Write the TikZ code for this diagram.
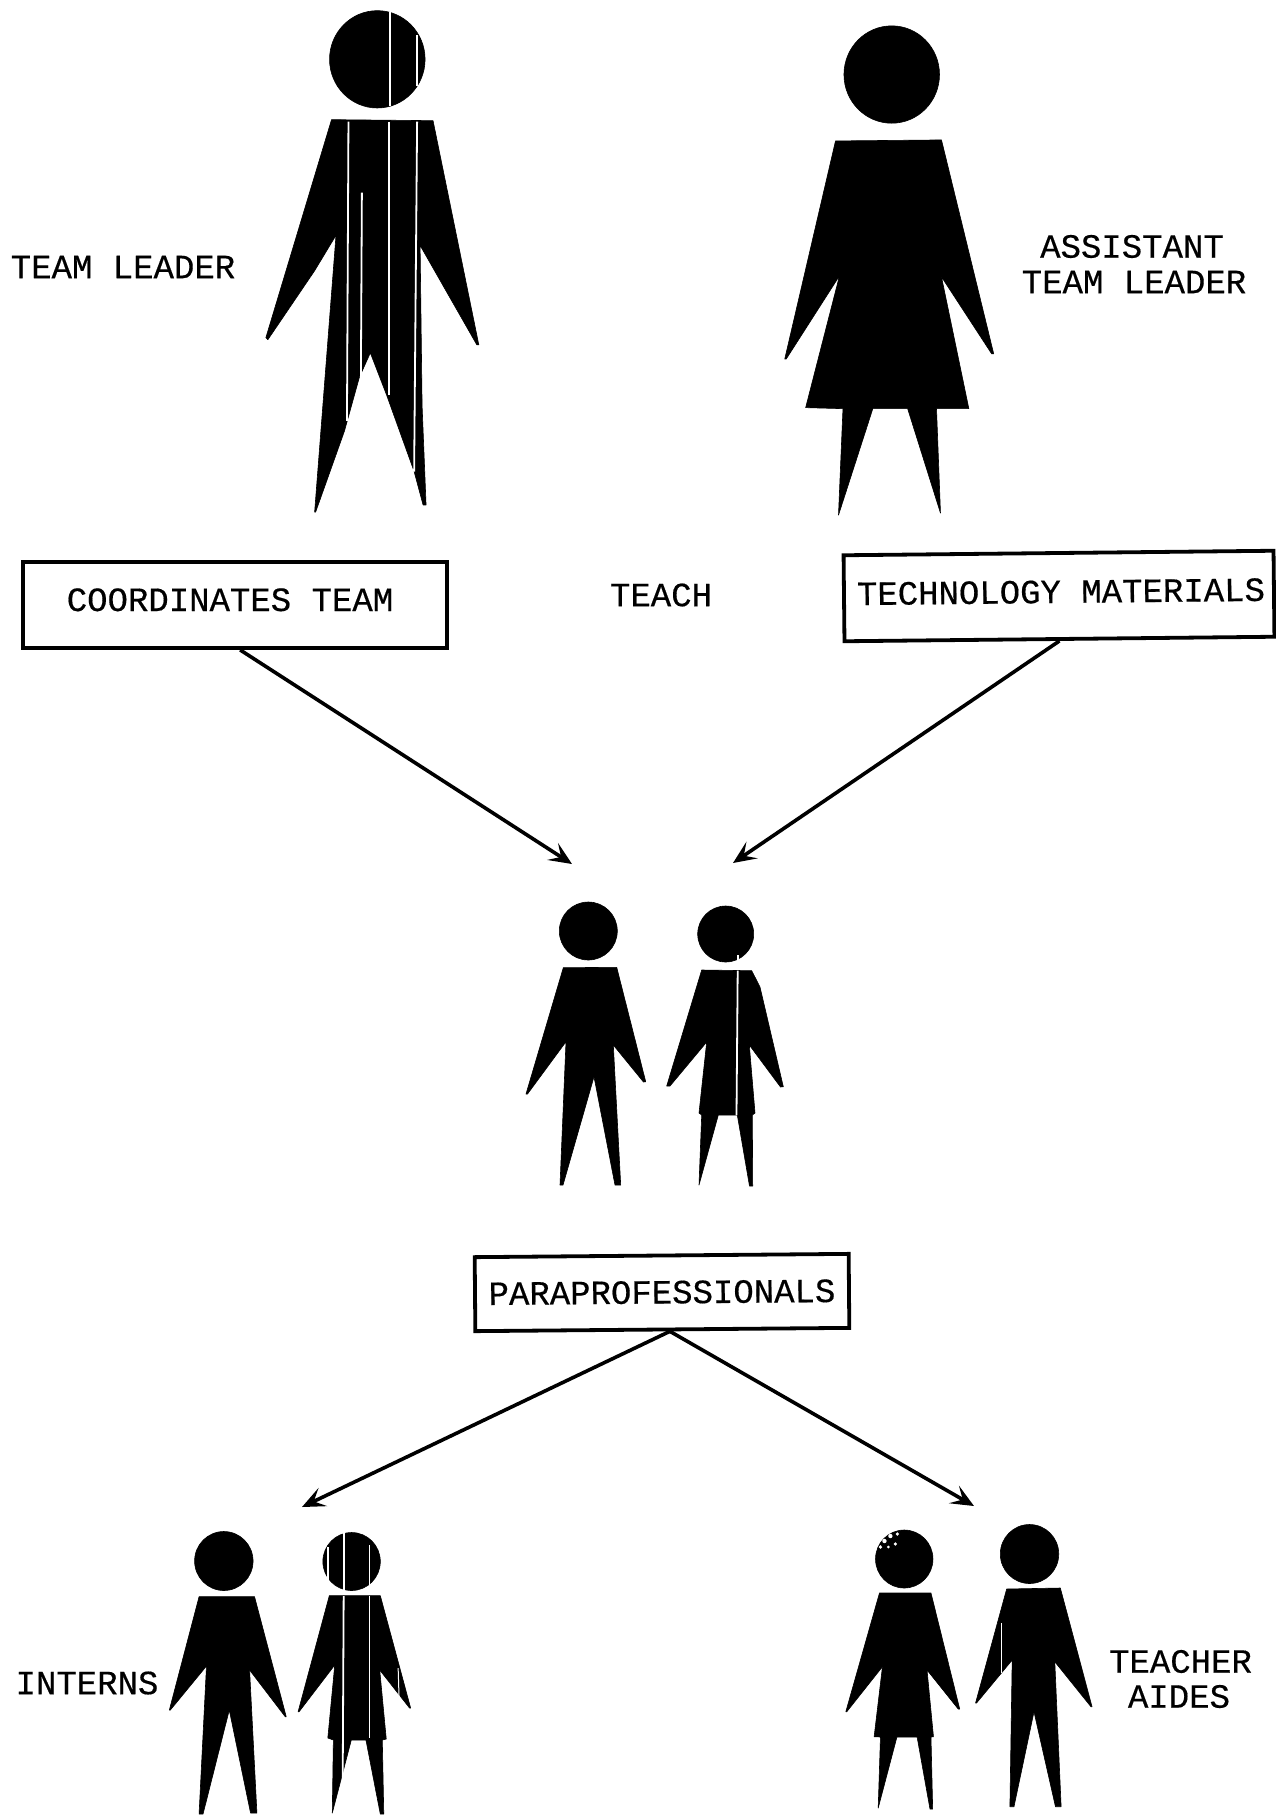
\documentclass[tikz,border=0pt]{standalone}
\usepackage{fontspec}
\setmainfont[FakeBold=0.4]{Liberation Mono}
\usetikzlibrary{arrows.meta,calc}
\tikzset{
  silhouette/.style={fill=black,draw=black,line width=0.6pt,line join=round},
  scan/.style={white,line width=1.8pt},
  label/.style={inner sep=0pt,font=\fontsize{34}{34}\selectfont,text=black},
  boxed/.style={draw=black,line width=3.8pt,fill=white,inner sep=0pt,font=\fontsize{34}{34}\selectfont,text=black,text height=22pt},
  link/.style={draw=black,line width=3.6pt,-{Stealth[length=23pt,width=20pt,inset=10pt]}},
  topfigs/.style={x=0.995pt,xshift=1.2pt,y=-1.014pt},
  lowfigs/.style={x=0.9904pt}
}
\begin{document}
\begin{tikzpicture}[x=1pt,y=-1pt]
\useasboundingbox (0,0) rectangle (1275,1815);

\begin{scope}[topfigs]
% --- Team leader
\fill[silhouette] (378,58.5) circle [radius=48];
\fill[silhouette] (332,118) -- (434,119) -- (480,340) -- (478,340) -- (421,242) -- (423,400) -- (427,498) -- (424,498)
  -- (415,465) -- (387.5,390) -- (371,348) -- (360,372) -- (345,425) -- (316,505) -- (315,505) -- (336.5,232)
  -- (315,267) -- (268,335) -- (266,333) -- cycle;
\draw[scan] (391,12) -- (391,105);
\draw[scan] (418,35) -- (418,85);
\draw[scan] (349,120) -- (347.5,415);
\draw[scan] (390,120) -- (390,390);
\draw[scan] (418,120) -- (415,465);
\draw[scan] (362.5,190) -- (361.5,372);

% --- Assistant team leader
\fill[silhouette] (895,73.5) circle [radius=48];
\fill[silhouette] (838.5,139) -- (945,138) -- (997.5,349) -- (995.5,349) -- (945,273) -- (972.5,403) -- (940,403)
  -- (944,506) -- (911,403) -- (876,403) -- (841.5,508) -- (846,403) -- (808.5,402) -- (842.5,272)
  -- (789,354) -- (787.5,354) -- cycle;
\end{scope}

% --- Boxes
\node[boxed,minimum width=424pt,minimum height=86pt,text depth=10pt] (cb) at (235,605) {COORDINATES TEAM\kern10pt};
\node[boxed,minimum width=430pt,minimum height=86pt,text depth=8pt,rotate=0.6] (tb) at (1059,596) {\kern4pt TECHNOLOGY MATERIALS};
\node[boxed,minimum width=374pt,minimum height=74pt,text depth=0pt,rotate=0.5] (pb) at (662,1292.5) {PARAPROFESSIONALS};

% --- Labels
\node[label] (teamleader) at (123,267) {TEAM LEADER};
\node[label] (assistant) at (1132,246.5) {ASSISTANT};
\node[label] (assistantb) at (1134,282) {TEAM LEADER};
\node[label] (teach) at (661,595) {TEACH};
\node[label] (interns) at (87,1683) {INTERNS};
\node[label] (teacher) at (1180.5,1661.5) {TEACHER};
\node[label] (aides) at (1179,1696.5) {AIDES};

% --- Middle pair
\fill[silhouette] (588.3,931) circle [radius=29];
\fill[silhouette] (563.3,967.7) -- (616.7,967.3) -- (645.7,1081.7) -- (643.5,1082) -- (613.3,1045) -- (620.7,1185) -- (615,1185)
  -- (594,1076.7) -- (563,1185) -- (560,1185) -- (566,1041.7) -- (527.5,1094) -- (526,1094) -- cycle;
\fill[silhouette] (725.7,934) circle [radius=28];
\fill[silhouette] (701.7,970) -- (751.7,970.7) -- (760,987) -- (783.3,1086.7) -- (780.5,1087) -- (749.3,1045) -- (755,1113) -- (752.3,1115)
  -- (752.7,1186) -- (749.5,1186) -- (737.3,1115) -- (718.3,1115) -- (699,1185) -- (701.7,1115) -- (699,1113) -- (706.7,1042)
  -- (670,1086) -- (666.7,1086) -- cycle;
\draw[scan] (737.7,955) -- (737.7,960);
\draw[scan] (737.7,970.7) -- (736.5,1115);

\begin{scope}[lowfigs]
% --- Interns
\fill[silhouette] (226,1561) circle [radius=29.5];
\fill[silhouette] (201,1596.7) -- (257,1596.7) -- (289,1716.7) -- (288,1716.7) -- (252,1670) -- (259.4,1813) -- (253,1813)
  -- (231.5,1710) -- (205,1814) -- (201,1814) -- (208.5,1666) -- (172,1710) -- (171,1710) -- cycle;
\fill[silhouette] (355,1561.5) circle [radius=29];
\fill[silhouette] (332.5,1595.7) -- (384,1595.7) -- (414.6,1708) -- (413.5,1708) -- (383.4,1670) -- (390,1739) -- (386,1740)
  -- (387.5,1814) -- (384,1814) -- (369.5,1740) -- (354.7,1740) -- (335.5,1813) -- (336.6,1740) -- (331,1738) -- (338,1665)
  -- (302,1711.7) -- (301,1711.7) -- cycle;
\draw[scan] (347,1533) -- (347,1590);
\draw[scan] (347,1596) -- (346,1785);
\draw[scan] (373,1545) -- (373,1590);
\draw[scan] (373,1596) -- (373,1738);
\draw[scan] (331,1547) -- (331,1580);
\draw[scan,line width=1pt] (402,1668) -- (403,1700);

% --- Teacher aides
\fill[silhouette] (913,1559) circle [radius=29];
\fill[silhouette] (888,1593) -- (940,1593) -- (969,1709) -- (967.5,1709) -- (936,1670) -- (942.5,1736.7) -- (940,1737)
  -- (941.7,1809) -- (939,1809) -- (926,1737) -- (905.6,1737) -- (886.7,1808) -- (889,1737) -- (882.6,1736.7) -- (891,1666.7)
  -- (855,1711.7) -- (854,1711.7) -- cycle;
\fill[white] (893,1541) circle [radius=2.2] (899,1536) circle [radius=2.2] (904,1544) circle [radius=1.8] (889,1547) circle [radius=1.8] (906,1534) circle [radius=1.8] (897,1547) circle [radius=1.5];
\fill[silhouette] (1039.5,1554) circle [radius=29.5];
\fill[silhouette] (1016.4,1589) -- (1070.6,1588) -- (1102.6,1706.7) -- (1101.5,1706.7) -- (1065,1661.7) -- (1071.4,1806.7) -- (1065.7,1806.7)
  -- (1044,1711.7) -- (1023.8,1806.7) -- (1019.7,1806.7) -- (1022,1660) -- (986,1703) -- (985,1703) -- cycle;
\draw[scan,line width=1pt] (1011.5,1623) -- (1011.5,1673);
\end{scope}

% --- Connectors
\coordinate (tA) at (572,864);
\coordinate (tB) at (733,863);
\coordinate (tC) at (302,1507);
\coordinate (tD) at (974,1506);
\draw[link] ($(cb.south west)!0.512!(cb.south east)$) -- (tA);
\draw[link] (tb.south) -- (tB);
\draw[link] ($(pb.south west)!0.52!(pb.south east)$) -- (tC);
\draw[link] ($(pb.south west)!0.52!(pb.south east)$) -- (tD);
\end{tikzpicture}
\end{document}
